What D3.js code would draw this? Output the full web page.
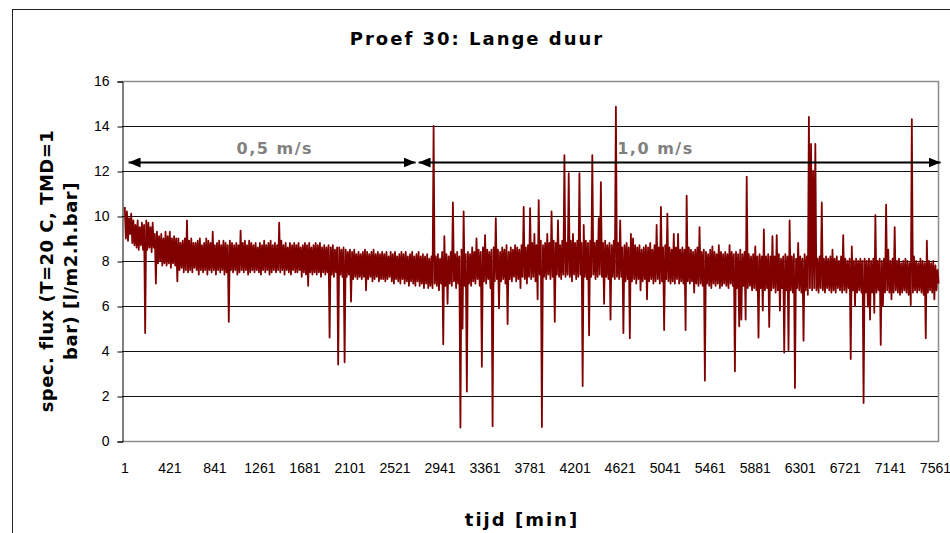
<!DOCTYPE html>
<html>

<head>
    <meta charset="utf-8">
    <style>
        body {
            margin: 0;
            background: #fff;
        }

        svg {
            display: block;
        }

        .tick-label {
            font-family: 'Liberation Sans', Arial, sans-serif;
            font-size: 14px;
            fill: #000;
        }

        .bold {
            font-family: 'DejaVu Sans', Verdana, sans-serif;
            font-weight: bold;
            fill: #000;
        }
    </style>
</head>

<body>
    <svg width="950" height="533"></svg>
</body>

<script src="https://d3js.org/d3.v7.min.js"></script>

<script>
    // flux readings, one value every 10 minutes starting at minute 1
    const fluxStart = 1
    const fluxStep = 10
    const flux = [
        10.4, 9.0, 10.2, 8.9, 9.9, 9.2, 10.1, 8.8, 9.8, 8.7, 9.6, 8.6, 9.8, 8.5, 9.5, 8.7, 9.7, 8.5, 9.6, 4.8,
        9.8, 8.5, 9.7, 8.6, 9.5, 8.4, 9.7, 8.6, 9.2, 7.0, 9.3, 7.9, 9.1, 8.0, 9.2, 7.8, 9.0, 7.9, 9.3, 7.8,
        9.1, 7.9, 9.3, 7.7, 9.0, 7.9, 9.1, 7.8, 9.0, 7.1, 9.0, 7.6, 8.8, 7.7, 8.9, 7.5, 9.0, 7.6, 9.8, 7.5,
        8.9, 7.6, 9.0, 7.5, 8.8, 7.7, 8.8, 7.6, 8.9, 7.4, 9.0, 7.6, 8.7, 7.5, 8.8, 7.6, 9.0, 7.4, 8.9, 7.6,
        8.8, 7.5, 9.3, 7.6, 8.7, 7.4, 8.8, 7.6, 8.9, 7.5, 8.7, 7.6, 8.9, 7.4, 8.8, 7.5, 8.7, 5.3, 8.9, 7.6,
        8.8, 7.5, 8.7, 7.6, 8.8, 7.4, 8.7, 7.5, 9.35, 7.6, 8.8, 7.5, 8.9, 7.6, 8.7, 7.4, 8.9, 7.5, 8.8, 7.6,
        8.7, 7.5, 8.8, 7.6, 8.6, 7.5, 8.8, 7.4, 8.7, 7.6, 8.9, 7.5, 8.7, 7.6, 8.8, 7.4, 8.9, 7.5, 8.7, 7.6,
        8.8, 7.5, 8.7, 7.6, 9.7, 7.5, 8.9, 7.6, 8.7, 7.4, 8.8, 7.6, 8.6, 7.5, 8.8, 7.4, 8.7, 7.6, 8.8, 7.5,
        8.7, 7.5, 8.8, 7.6, 8.6, 7.3, 8.7, 7.5, 8.8, 7.4, 8.7, 6.9, 8.8, 7.5, 8.6, 7.4, 8.7, 7.5, 8.8, 7.4,
        8.7, 7.5, 8.8, 7.3, 8.6, 7.5, 8.7, 7.4, 8.6, 7.5, 8.7, 4.6, 8.6, 7.4, 8.7, 7.3, 8.5, 7.5, 8.6, 3.4,
        8.6, 7.4, 8.5, 7.3, 8.6, 3.5, 8.5, 7.3, 8.4, 7.4, 8.5, 6.2, 8.4, 7.2, 8.5, 7.3, 8.3, 7.2, 8.4, 7.3,
        8.3, 7.2, 8.4, 7.3, 8.5, 6.7, 8.4, 7.2, 8.3, 7.3, 8.4, 7.1, 8.5, 7.2, 8.3, 7.3, 8.4, 7.1, 8.3, 7.2,
        8.4, 7.2, 8.3, 7.1, 8.4, 7.2, 8.2, 7.3, 8.4, 7.1, 8.3, 7.0, 8.4, 7.2, 8.2, 7.1, 8.3, 7.0, 8.4, 7.2,
        8.3, 7.0, 8.4, 7.1, 8.2, 6.9, 8.3, 7.1, 8.4, 7.0, 8.2, 6.9, 8.3, 7.1, 8.4, 6.9, 8.2, 7.0, 8.3, 6.8,
        8.2, 7.0, 8.3, 6.8, 8.1, 6.9, 8.2, 6.8, 14.0, 7.0, 8.2, 6.9, 8.3, 6.7, 8.1, 7.0, 8.4, 4.3, 9.1, 6.9,
        8.3, 6.1, 8.2, 7.0, 8.4, 6.9, 10.6, 7.1, 8.3, 6.8, 8.4, 7.0, 8.2, 0.6, 8.5, 5.0, 10.2, 6.9, 8.3, 2.2,
        8.4, 7.0, 8.3, 6.9, 8.6, 7.1, 8.4, 7.0, 9.0, 7.2, 8.5, 6.9, 8.4, 3.3, 8.6, 7.1, 9.15, 7.0, 8.5, 7.2,
        8.4, 6.8, 8.5, 0.66, 8.6, 7.1, 9.9, 7.2, 8.5, 5.9, 8.4, 7.1, 8.6, 7.2, 8.5, 7.0, 8.7, 5.2, 8.4, 7.2,
        8.6, 7.1, 8.5, 7.3, 8.7, 7.1, 8.6, 7.2, 8.5, 6.8, 8.7, 7.3, 10.4, 7.2, 8.6, 7.0, 8.7, 7.3, 10.35, 7.2,
        8.8, 7.3, 9.2, 7.1, 8.7, 6.3, 10.7, 7.4, 8.9, 0.62, 8.7, 7.3, 8.8, 7.2, 9.2, 7.4, 8.8, 7.2, 10.2, 7.3,
        8.9, 5.3, 8.8, 7.4, 9.8, 7.3, 8.7, 7.2, 8.9, 7.4, 12.7, 7.3, 8.8, 7.4, 11.9, 7.3, 8.9, 7.1, 9.2, 7.4,
        8.8, 7.2, 8.9, 7.3, 11.9, 7.4, 8.8, 2.44, 9.6, 7.3, 8.9, 7.2, 8.8, 4.7, 8.9, 7.3, 12.7, 7.4, 8.8, 7.2,
        8.9, 7.3, 9.9, 7.4, 11.5, 7.3, 8.8, 6.1, 8.9, 7.3, 8.7, 7.2, 8.8, 5.4, 8.7, 7.3, 8.9, 7.2, 14.86, 7.3,
        8.8, 7.2, 9.8, 7.3, 8.6, 4.8, 8.7, 7.1, 8.8, 7.2, 8.6, 4.57, 9.2, 7.1, 9.0, 7.2, 8.7, 7.0, 8.6, 7.2,
        8.7, 6.7, 8.5, 7.1, 8.6, 7.2, 8.7, 6.3, 8.6, 7.1, 8.8, 7.2, 8.5, 7.0, 8.7, 7.1, 9.6, 7.2, 8.6, 7.0,
        10.4, 7.1, 8.6, 4.93, 8.7, 7.2, 10.1, 7.1, 8.6, 7.0, 8.5, 7.1, 9.2, 7.0, 8.6, 7.2, 9.2, 7.0, 8.5, 7.1,
        8.6, 7.0, 8.5, 4.93, 10.9, 7.1, 8.6, 7.0, 8.5, 7.1, 8.4, 6.6, 8.5, 7.0, 8.6, 6.9, 9.5, 7.0, 8.4, 6.9,
        8.5, 2.68, 8.4, 7.0, 8.3, 6.9, 8.5, 6.8, 8.65, 7.0, 8.4, 6.9, 8.3, 7.0, 8.7, 6.8, 8.4, 6.9, 8.3, 7.0,
        8.4, 6.9, 8.3, 6.8, 8.7, 7.0, 8.4, 6.9, 8.3, 3.1, 8.4, 6.8, 8.3, 5.1, 8.5, 5.4, 8.3, 6.9, 8.4, 5.4,
        11.75, 6.8, 8.3, 6.9, 8.2, 6.7, 8.3, 6.8, 8.65, 6.7, 8.2, 4.6, 8.3, 6.8, 8.2, 5.8, 9.4, 6.7, 8.2, 6.8,
        8.3, 5.07, 8.2, 6.7, 9.1, 6.8, 8.2, 6.6, 9.15, 6.7, 8.3, 5.8, 8.1, 6.8, 8.2, 3.93, 8.3, 6.7, 8.2, 4.04,
        9.8, 6.7, 8.2, 6.6, 8.3, 2.36, 8.1, 6.8, 8.8, 6.7, 8.2, 6.6, 8.1, 4.46, 8.3, 6.7, 8.2, 6.5, 14.4, 6.8,
        13.2, 6.7, 12.0, 6.8, 13.2, 6.7, 8.1, 6.6, 8.2, 6.8, 10.6, 6.7, 8.1, 6.6, 8.2, 6.8, 8.1, 6.7, 8.2, 6.6,
        8.5, 6.7, 8.1, 6.6, 8.2, 6.8, 8.0, 6.7, 8.2, 6.6, 9.15, 6.7, 8.1, 6.6, 8.0, 6.8, 8.1, 3.64, 8.65, 6.7,
        8.0, 6.0, 8.1, 6.6, 8.0, 6.7, 8.1, 6.6, 8.0, 1.69, 8.1, 6.6, 8.0, 5.97, 8.1, 5.4, 8.0, 6.6, 8.1, 5.7,
        10.04, 6.6, 8.0, 6.7, 8.1, 4.27, 8.0, 6.0, 8.1, 6.6, 10.5, 6.7, 8.5, 6.6, 8.0, 6.3, 8.1, 6.6, 9.5, 6.7,
        8.0, 6.6, 8.1, 6.5, 7.9, 6.6, 8.0, 6.7, 8.1, 6.6, 8.0, 6.5, 7.9, 6.04, 14.3, 6.6, 8.2, 6.7, 8.0, 6.6,
        7.9, 6.7, 8.1, 6.6, 8.0, 6.5, 7.9, 4.57, 8.9, 6.6, 8.0, 6.7, 7.9, 6.6, 8.0, 6.3, 7.8, 6.7, 7.6, 7.0
    ]

    const xTickLabels = [1, 421, 841, 1261, 1681, 2101, 2521, 2941, 3361, 3781, 4201, 4621, 5041, 5461, 5881, 6301, 6721, 7141, 7561]
    const yTicks = [0, 2, 4, 6, 8, 10, 12, 14, 16]

    // velocity periods (minutes)
    const zoneLabels = ["0,5 m/s", "1,0 m/s"]
    const zoneFrom = [36, 2741]
    const zoneTo = [2713, 7609]
    const zoneLabelAt = [1400, 4950]

    const title = "Proef 30: Lange duur"
    const yTitle = ["spec. flux (T=20 C, TMD=1", "bar) [l/m2.h.bar]"]
    const xTitle = "tijd [min]"

    let svg = d3.select("svg")

    let plot = { left: 122, right: 938, top: 81, bottom: 441 }

    let x = d3.scaleLinear()
        .domain([-25, 7585])
        .range([plot.left, plot.right])

    let y = d3.scaleLinear()
        .domain([0, 16])
        .range([plot.bottom, plot.top])

    // outer chart frame (runs off the right and bottom of the picture)
    svg.append("rect")
        .attr("x", 12.5)
        .attr("y", 9.5)
        .attr("width", 1000)
        .attr("height", 600)
        .style("fill", "none")
        .style("stroke", "#222")

    // gridlines
    svg.selectAll(".grid")
        .data(yTicks.filter(d => d > 0 && d < 16))
        .join("line")
        .attr("x1", plot.left)
        .attr("x2", plot.right)
        .attr("y1", d => Math.round(y(d)) + 0.5)
        .attr("y2", d => Math.round(y(d)) + 0.5)
        .style("stroke", "#111")
        .style("stroke-width", 1)

    // plot area border
    svg.append("path")
        .attr("d", `M${plot.left},${plot.top + 0.5}H${plot.right + 0.5}V${plot.bottom + 0.5}H${plot.left}`)
        .style("fill", "none")
        .style("stroke", "#8c8c8c")
        .style("stroke-width", 1.5)

    // y axis
    let yAxis = svg.append("g")
        .attr("transform", `translate(${plot.left + 0.5},0.5)`)
        .call(d3.axisLeft(y).tickValues(yTicks).tickSize(5).tickFormat(d3.format("d")))

    yAxis.select(".domain").style("stroke", "#000")
    yAxis.selectAll(".tick line").style("stroke", "#000")
    yAxis.selectAll(".tick text")
        .attr("class", "tick-label")
        .attr("x", -13)
    yAxis.attr("font-size", null).attr("font-family", null)

    // x labels
    svg.selectAll(".xlab")
        .data(xTickLabels)
        .join("text")
        .attr("class", "tick-label")
        .attr("x", d => x(d))
        .attr("y", 473)
        .attr("text-anchor", "middle")
        .text(d => d)

    // flux line
    let line = d3.line()
        .x((d, i) => x(fluxStart + i * fluxStep))
        .y(d => y(d))

    svg.append("path")
        .datum(flux)
        .attr("d", line)
        .style("fill", "none")
        .style("stroke", "#800000")
        .style("stroke-width", 1.8)
        .style("stroke-linejoin", "round")

    // velocity arrows
    let defs = svg.append("defs")
    defs.append("marker")
        .attr("id", "head")
        .attr("viewBox", "0 0 12 10")
        .attr("refX", 12)
        .attr("refY", 5)
        .attr("markerWidth", 12)
        .attr("markerHeight", 10)
        .attr("markerUnits", "userSpaceOnUse")
        .attr("orient", "auto-start-reverse")
        .append("path")
        .attr("d", "M0,0L12,5L0,10Z")
        .style("fill", "#000")

    let arrowY = 162.5

    zoneLabels.forEach((lab, i) => {
        svg.append("line")
            .attr("x1", x(zoneFrom[i]))
            .attr("x2", x(zoneTo[i]))
            .attr("y1", arrowY)
            .attr("y2", arrowY)
            .style("stroke", "#000")
            .style("stroke-width", 2)
            .attr("marker-start", "url(#head)")
            .attr("marker-end", "url(#head)")

        svg.append("text")
            .attr("class", "bold")
            .attr("x", x(zoneLabelAt[i]))
            .attr("y", 154)
            .attr("text-anchor", "middle")
            .style("font-size", "16px")
            .style("letter-spacing", "1.5px")
            .style("fill", "#808080")
            .text(lab)
    })

    // titles
    svg.append("text")
        .attr("class", "bold")
        .attr("x", 477)
        .attr("y", 45)
        .attr("text-anchor", "middle")
        .style("font-size", "18px")
        .style("letter-spacing", "2px")
        .text(title)

    svg.append("text")
        .attr("class", "bold")
        .attr("x", 522)
        .attr("y", 526)
        .attr("text-anchor", "middle")
        .style("font-size", "18px")
        .style("letter-spacing", "2px")
        .text(xTitle)

    svg.append("text")
        .attr("class", "bold")
        .attr("transform", "translate(53,271) rotate(-90)")
        .attr("text-anchor", "middle")
        .style("font-size", "18px")
        .style("letter-spacing", "0.5px")
        .selectAll("tspan")
        .data(yTitle)
        .join("tspan")
        .attr("x", 0)
        .attr("dy", (d, i) => i == 0 ? 0 : 24)
        .text(d => d)
</script>

</html>
